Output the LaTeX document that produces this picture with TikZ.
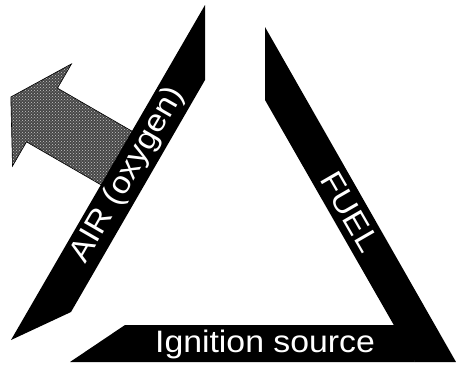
\documentclass[tikz,border=0pt]{standalone}
\usepackage{fontspec}
\usepackage{tikz}
\usetikzlibrary{patterns}
\newfontfamily\labelfont[FakeStretch=1.09]{Liberation Sans}
\definecolor{arrowgrey}{HTML}{474747}
\tikzset{
  bar/.style={fill=black},
  barlabel/.style={text=white,inner sep=0pt,font=\labelfont\fontsize{31}{31}\selectfont},
  airarrow/.style={draw=black,line width=0.6pt,preaction={fill=arrowgrey},pattern=crosshatch dots,pattern color=gray!45}
}

\begin{document}
\begin{tikzpicture}[x=1pt,y=-1pt]
\useasboundingbox (0,0) rectangle (456,365);
% air arrow, its tail hidden under the left bar
\begin{scope}[shift={(42,115)},rotate=-30]
  \draw[airarrow] (-36,0) -- (0,-59) -- (0,-31) -- (105,-31) -- (105,31) -- (0,31) -- (0,59) -- cycle;
\end{scope}
\fill[bar] (205,5) -- (205,80) -- (71,312) -- (11,340) -- cycle;
\fill[bar] (265,27) -- (265,100) -- (415,362) -- (456,362) -- cycle;
\fill[bar] (125,325) -- (400,325) -- (415,362) -- (70,362) -- cycle;
\node[barlabel,rotate=60] (air) at (128,175) {AIR (oxygen)};
\node[barlabel,rotate=-60] (fuel) at (350,212) {FUEL};
\node[barlabel,anchor=base] (ignition) at (265,352) {Ignition source};
\end{tikzpicture}
\end{document}
